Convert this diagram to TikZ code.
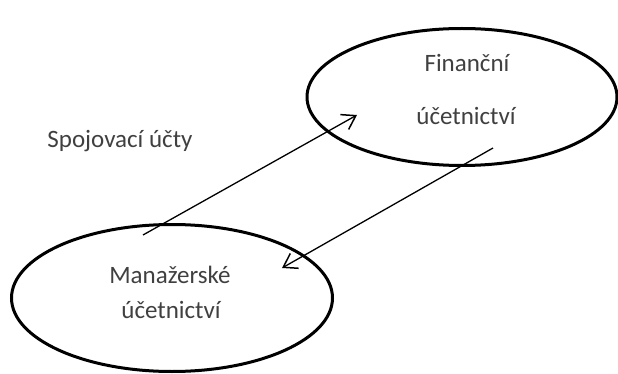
\documentclass[tikz,border=0pt]{standalone}
\usepackage{fontspec}
\setmainfont{Carlito}
\usetikzlibrary{shapes.geometric,arrows.meta}
\begin{document}
\begin{tikzpicture}[x=1pt,y=-1pt,
  oval/.style={draw=black, line width=3pt, ellipse, inner sep=0pt},
  lbl/.style={text=black!75, font=\fontsize{25}{30}\selectfont, inner sep=0pt, anchor=base},
  link/.style={line width=1.3pt, -{Straight Barb[length=13pt,width=17pt,line width=1.5pt]}}]
\useasboundingbox (0,0) rectangle (618,374);
\node[oval, minimum width=310pt, minimum height=137pt] (fin) at (462,97) {};
\node[oval, minimum width=321pt, minimum height=147pt] (man) at (172,298) {};
\node[lbl] (fin1) at (467,72) {Finanční};
\node[lbl] (fin2) at (466,125) {účetnictví};
\node[lbl] (man1) at (170,283) {Manažerské};
\node[lbl] (man2) at (171,318) {účetnictví};
\node[lbl] (spoj) at (120,148) {Spojovací účty};
\coordinate (a1s) at (143,235);
\coordinate (a1e) at (357,115);
\coordinate (a2s) at (493,148);
\coordinate (a2e) at (282,268);
\draw[link] (a1s) -- (a1e);
\draw[link] (a2s) -- (a2e);
\end{tikzpicture}
\end{document}
